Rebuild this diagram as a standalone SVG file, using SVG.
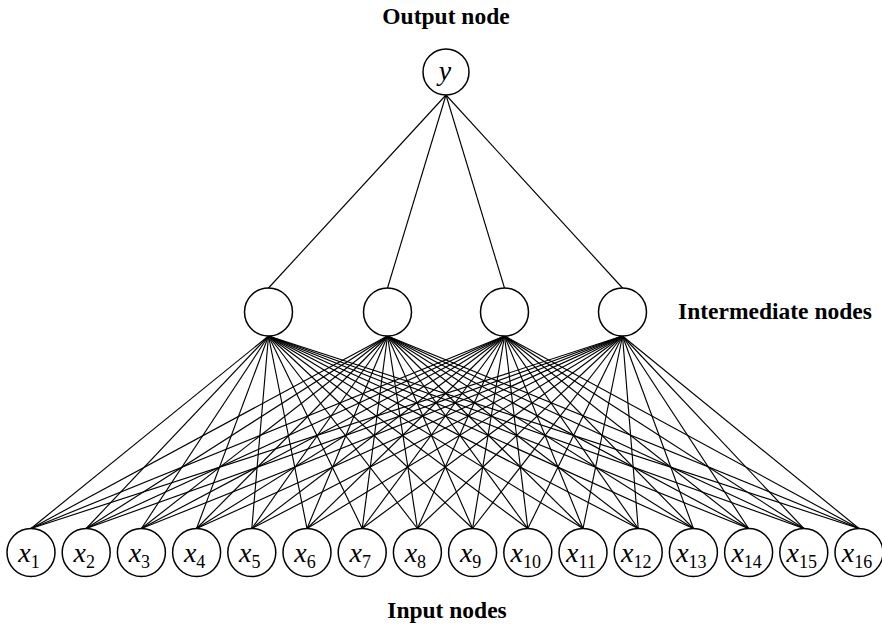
<svg xmlns="http://www.w3.org/2000/svg" width="882" height="627" viewBox="0 0 882 627">
  <style>
    .node { fill: #fff; stroke: #000; stroke-width: 1.5; }
    .edge { stroke: #000; stroke-width: 1.15; fill: none; }
    .label { font-family: "Liberation Serif", "Times New Roman", serif; font-weight: bold; font-size: 23.5px; fill: #000; }
    .var { font-family: "Liberation Serif", "Times New Roman", serif; font-style: italic; font-size: 28px; fill: #000; }
    .sub { font-style: normal; font-size: 18px; }
  </style>
  <rect width="882" height="627" fill="#fff"/>

  <!-- connectors: output to hidden, hidden to inputs -->
  <g id="connectors" class="edge">
    <line x1="446" y1="95" x2="268.5" y2="288"/>
    <line x1="446" y1="95" x2="387.5" y2="288"/>
    <line x1="446" y1="95" x2="504.5" y2="288"/>
    <line x1="446" y1="95" x2="622.5" y2="288"/>

    <g id="fan-h1">
      <line x1="268.5" y1="336" x2="31" y2="528.5"/>
      <line x1="268.5" y1="336" x2="86.2" y2="528.5"/>
      <line x1="268.5" y1="336" x2="141.4" y2="528.5"/>
      <line x1="268.5" y1="336" x2="196.6" y2="528.5"/>
      <line x1="268.5" y1="336" x2="251.8" y2="528.5"/>
      <line x1="268.5" y1="336" x2="307" y2="528.5"/>
      <line x1="268.5" y1="336" x2="362.2" y2="528.5"/>
      <line x1="268.5" y1="336" x2="417.4" y2="528.5"/>
      <line x1="268.5" y1="336" x2="472.6" y2="528.5"/>
      <line x1="268.5" y1="336" x2="527.8" y2="528.5"/>
      <line x1="268.5" y1="336" x2="583" y2="528.5"/>
      <line x1="268.5" y1="336" x2="638.2" y2="528.5"/>
      <line x1="268.5" y1="336" x2="693.4" y2="528.5"/>
      <line x1="268.5" y1="336" x2="748.6" y2="528.5"/>
      <line x1="268.5" y1="336" x2="803.8" y2="528.5"/>
      <line x1="268.5" y1="336" x2="859" y2="528.5"/>
    </g>
    <g id="fan-h2">
      <line x1="387.5" y1="336" x2="31" y2="528.5"/>
      <line x1="387.5" y1="336" x2="86.2" y2="528.5"/>
      <line x1="387.5" y1="336" x2="141.4" y2="528.5"/>
      <line x1="387.5" y1="336" x2="196.6" y2="528.5"/>
      <line x1="387.5" y1="336" x2="251.8" y2="528.5"/>
      <line x1="387.5" y1="336" x2="307" y2="528.5"/>
      <line x1="387.5" y1="336" x2="362.2" y2="528.5"/>
      <line x1="387.5" y1="336" x2="417.4" y2="528.5"/>
      <line x1="387.5" y1="336" x2="472.6" y2="528.5"/>
      <line x1="387.5" y1="336" x2="527.8" y2="528.5"/>
      <line x1="387.5" y1="336" x2="583" y2="528.5"/>
      <line x1="387.5" y1="336" x2="638.2" y2="528.5"/>
      <line x1="387.5" y1="336" x2="693.4" y2="528.5"/>
      <line x1="387.5" y1="336" x2="748.6" y2="528.5"/>
      <line x1="387.5" y1="336" x2="803.8" y2="528.5"/>
      <line x1="387.5" y1="336" x2="859" y2="528.5"/>
    </g>
    <g id="fan-h3">
      <line x1="504.5" y1="336" x2="31" y2="528.5"/>
      <line x1="504.5" y1="336" x2="86.2" y2="528.5"/>
      <line x1="504.5" y1="336" x2="141.4" y2="528.5"/>
      <line x1="504.5" y1="336" x2="196.6" y2="528.5"/>
      <line x1="504.5" y1="336" x2="251.8" y2="528.5"/>
      <line x1="504.5" y1="336" x2="307" y2="528.5"/>
      <line x1="504.5" y1="336" x2="362.2" y2="528.5"/>
      <line x1="504.5" y1="336" x2="417.4" y2="528.5"/>
      <line x1="504.5" y1="336" x2="472.6" y2="528.5"/>
      <line x1="504.5" y1="336" x2="527.8" y2="528.5"/>
      <line x1="504.5" y1="336" x2="583" y2="528.5"/>
      <line x1="504.5" y1="336" x2="638.2" y2="528.5"/>
      <line x1="504.5" y1="336" x2="693.4" y2="528.5"/>
      <line x1="504.5" y1="336" x2="748.6" y2="528.5"/>
      <line x1="504.5" y1="336" x2="803.8" y2="528.5"/>
      <line x1="504.5" y1="336" x2="859" y2="528.5"/>
    </g>
    <g id="fan-h4">
      <line x1="622.5" y1="336" x2="31" y2="528.5"/>
      <line x1="622.5" y1="336" x2="86.2" y2="528.5"/>
      <line x1="622.5" y1="336" x2="141.4" y2="528.5"/>
      <line x1="622.5" y1="336" x2="196.6" y2="528.5"/>
      <line x1="622.5" y1="336" x2="251.8" y2="528.5"/>
      <line x1="622.5" y1="336" x2="307" y2="528.5"/>
      <line x1="622.5" y1="336" x2="362.2" y2="528.5"/>
      <line x1="622.5" y1="336" x2="417.4" y2="528.5"/>
      <line x1="622.5" y1="336" x2="472.6" y2="528.5"/>
      <line x1="622.5" y1="336" x2="527.8" y2="528.5"/>
      <line x1="622.5" y1="336" x2="583" y2="528.5"/>
      <line x1="622.5" y1="336" x2="638.2" y2="528.5"/>
      <line x1="622.5" y1="336" x2="693.4" y2="528.5"/>
      <line x1="622.5" y1="336" x2="748.6" y2="528.5"/>
      <line x1="622.5" y1="336" x2="803.8" y2="528.5"/>
      <line x1="622.5" y1="336" x2="859" y2="528.5"/>
    </g>
  </g>

  <!-- output node -->
  <g id="node-y">
    <circle class="node" cx="446" cy="72" r="23"/>
    <text class="var" x="445" y="80" text-anchor="middle">y</text>
  </g>

  <!-- hidden (intermediate) nodes -->
  <g id="node-h1"><circle class="node" cx="268.5" cy="312" r="24"/></g>
  <g id="node-h2"><circle class="node" cx="387.5" cy="312" r="24"/></g>
  <g id="node-h3"><circle class="node" cx="504.5" cy="312" r="24"/></g>
  <g id="node-h4"><circle class="node" cx="622.5" cy="312" r="24"/></g>

  <!-- input nodes -->
  <g id="node-x1"><circle class="node" cx="31" cy="552.5" r="24"/><text class="var" x="29" y="562" text-anchor="middle">x<tspan class="sub" dy="6">1</tspan></text></g>
  <g id="node-x2"><circle class="node" cx="86.2" cy="552.5" r="24"/><text class="var" x="84.2" y="562" text-anchor="middle">x<tspan class="sub" dy="6">2</tspan></text></g>
  <g id="node-x3"><circle class="node" cx="141.4" cy="552.5" r="24"/><text class="var" x="139.4" y="562" text-anchor="middle">x<tspan class="sub" dy="6">3</tspan></text></g>
  <g id="node-x4"><circle class="node" cx="196.6" cy="552.5" r="24"/><text class="var" x="194.6" y="562" text-anchor="middle">x<tspan class="sub" dy="6">4</tspan></text></g>
  <g id="node-x5"><circle class="node" cx="251.8" cy="552.5" r="24"/><text class="var" x="249.8" y="562" text-anchor="middle">x<tspan class="sub" dy="6">5</tspan></text></g>
  <g id="node-x6"><circle class="node" cx="307" cy="552.5" r="24"/><text class="var" x="305" y="562" text-anchor="middle">x<tspan class="sub" dy="6">6</tspan></text></g>
  <g id="node-x7"><circle class="node" cx="362.2" cy="552.5" r="24"/><text class="var" x="360.2" y="562" text-anchor="middle">x<tspan class="sub" dy="6">7</tspan></text></g>
  <g id="node-x8"><circle class="node" cx="417.4" cy="552.5" r="24"/><text class="var" x="415.4" y="562" text-anchor="middle">x<tspan class="sub" dy="6">8</tspan></text></g>
  <g id="node-x9"><circle class="node" cx="472.6" cy="552.5" r="24"/><text class="var" x="470.6" y="562" text-anchor="middle">x<tspan class="sub" dy="6">9</tspan></text></g>
  <g id="node-x10"><circle class="node" cx="527.8" cy="552.5" r="24"/><text class="var" x="525.8" y="562" text-anchor="middle">x<tspan class="sub" dy="6">10</tspan></text></g>
  <g id="node-x11"><circle class="node" cx="583" cy="552.5" r="24"/><text class="var" x="581" y="562" text-anchor="middle">x<tspan class="sub" dy="6">11</tspan></text></g>
  <g id="node-x12"><circle class="node" cx="638.2" cy="552.5" r="24"/><text class="var" x="636.2" y="562" text-anchor="middle">x<tspan class="sub" dy="6">12</tspan></text></g>
  <g id="node-x13"><circle class="node" cx="693.4" cy="552.5" r="24"/><text class="var" x="691.4" y="562" text-anchor="middle">x<tspan class="sub" dy="6">13</tspan></text></g>
  <g id="node-x14"><circle class="node" cx="748.6" cy="552.5" r="24"/><text class="var" x="746.6" y="562" text-anchor="middle">x<tspan class="sub" dy="6">14</tspan></text></g>
  <g id="node-x15"><circle class="node" cx="803.8" cy="552.5" r="24"/><text class="var" x="801.8" y="562" text-anchor="middle">x<tspan class="sub" dy="6">15</tspan></text></g>
  <g id="node-x16"><circle class="node" cx="859" cy="552.5" r="24"/><text class="var" x="857" y="562" text-anchor="middle">x<tspan class="sub" dy="6">16</tspan></text></g>

  <!-- layer captions -->
  <text class="label" x="446" y="24" text-anchor="middle">Output node</text>
  <text class="label" x="678" y="319">Intermediate nodes</text>
  <text class="label" x="447" y="618" text-anchor="middle">Input nodes</text>
</svg>
